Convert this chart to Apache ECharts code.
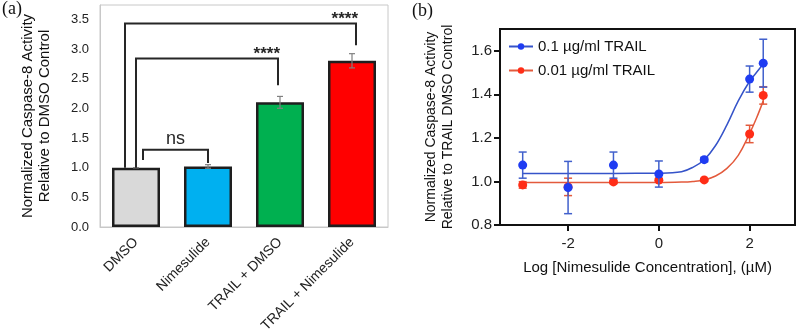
<!DOCTYPE html>
<html>
<head>
<meta charset="utf-8">
<script src="https://cdn.jsdelivr.net/npm/echarts@6/dist/echarts.min.js"></script>
<style>
  html, body { margin: 0; padding: 0; background: #fff; }
  #main { width: 800px; height: 329px; }
</style>
</head>
<body>
<div id="main"></div>
<script>
// ---- panel (a) data ----
const groups = ["DMSO", "Nimesulide", "TRAIL + DMSO", "TRAIL + Nimesulide"];
const activity = [1.0, 1.02, 2.1, 2.8];
const activityErr = [0.0, 0.03, 0.1, 0.12];
const barColors = ["#d9d9d9", "#00b0f0", "#00b050", "#ff0000"];
const yTicksA = [0, 0.5, 1, 1.5, 2, 2.5, 3, 3.5];
// significance brackets
const bracketFrom = [0, 0, 0];
const bracketTo = [1, 2, 3];
const bracketTop = [1.3, 2.84, 3.43];
const bracketLeftEnd = [1.13, 1.0, 1.0];
const bracketRightEnd = [1.08, 2.39, 3.06];
const bracketLabels = ["ns", "****", "****"];

// ---- panel (b) data ----
const logConc = [-3, -2, -1, 0, 1, 2, 2.3];
const high = [1.075, 0.972, 1.075, 1.034, 1.1, 1.47, 1.543];
const highErr = [0.06, 0.12, 0.06, 0.06, 0.01, 0.06, 0.11];
const low = [0.984, 0.975, 0.998, 1.006, 1.007, 1.218, 1.395];
const lowErr = [0.015, 0.04, 0.008, 0.008, 0.005, 0.04, 0.04];
// fitted curves
const fitX = [-3, -2, -1, 0, 0.5, 0.75, 1, 1.25, 1.5, 1.75, 2, 2.15, 2.3];
const highFit = [1.037, 1.037, 1.037, 1.038, 1.045, 1.065, 1.1, 1.165, 1.26, 1.37, 1.46, 1.5, 1.54];
const lowFit = [0.995, 0.995, 0.995, 0.995, 0.997, 1.0, 1.007, 1.025, 1.06, 1.12, 1.22, 1.29, 1.37];
const xTicksB = [-2, 0, 2];
const yTicksB = [0.8, 1.0, 1.2, 1.4, 1.6];
const legendNames = ["0.1 \u00b5g/ml TRAIL", "0.01 \u00b5g/ml TRAIL"];

const FONT = "Liberation Sans, Arial, sans-serif";
const BLUE = "#1f3cf2", BLUE_LINE = "#3553c9";
const RED = "#ff2d17", RED_LINE = "#e35a3c";

// error bar drawer (vertical line + caps)
function errorBars(capHalf, color, width) {
  return function (params, api) {
    const top = api.coord([api.value(0), api.value(2)]);
    const bot = api.coord([api.value(0), api.value(1)]);
    const st = { stroke: color, lineWidth: width };
    return {
      type: "group",
      children: [
        { type: "line", shape: { x1: top[0], y1: top[1], x2: bot[0], y2: bot[1] }, style: st },
        { type: "line", shape: { x1: top[0] - capHalf, y1: top[1], x2: top[0] + capHalf, y2: top[1] }, style: st },
        { type: "line", shape: { x1: bot[0] - capHalf, y1: bot[1], x2: bot[0] + capHalf, y2: bot[1] }, style: st },
      ],
    };
  };
}

// bracket end shifts in px (where the bracket legs meet the bars)
const legShiftL = [7, 0, -11];
const legShiftR = [0, -2, 4];

function bracketItem(params, api) {
  const i = params.dataIndex;
  const l = api.coord([bracketFrom[i], bracketTop[i]]);
  const r = api.coord([bracketTo[i], bracketTop[i]]);
  const x1 = l[0] + legShiftL[i];
  const x2 = r[0] + legShiftR[i];
  const yL = api.coord([bracketFrom[i], bracketLeftEnd[i]])[1];
  const yR = api.coord([bracketTo[i], bracketRightEnd[i]])[1];
  const y = l[1];
  const isNs = bracketLabels[i] === "ns";
  return {
    type: "group",
    children: [
      {
        type: "polyline",
        shape: { points: [[x1, yL], [x1, y], [x2, y], [x2, yR]] },
        style: { stroke: "#262626", lineWidth: 2, fill: null },
      },
      {
        type: "text",
        x: isNs ? (x1 + x2) / 2 : x2 + 2,
        y: isNs ? y - 2 : y + 4,
        style: {
          text: bracketLabels[i],
          fill: "#262626",
          font: isNs ? "18px " + FONT : "bold 17px " + FONT,
          align: isNs ? "center" : "right",
          verticalAlign: "bottom",
        },
      },
    ],
  };
}

const chart = echarts.init(document.getElementById("main"));
const option = {
  animation: false,
  textStyle: { fontFamily: FONT },
  title: [
    { text: "(a)", left: 2, top: 0, padding: 0, textStyle: { fontFamily: "Liberation Serif", fontSize: 18, fontWeight: "normal", color: "#111" } },
    { text: "(b)", left: 412, top: 2, padding: 0, textStyle: { fontFamily: "Liberation Serif", fontSize: 18, fontWeight: "normal", color: "#111" } },
  ],
  legend: {
    data: legendNames,
    orient: "vertical",
    left: 503,
    top: 34,
    itemWidth: 24,
    itemHeight: 8,
    itemGap: 9,
    textStyle: { fontSize: 15, color: "#111" },
  },
  grid: [
    { left: 100, top: 5, width: 288, height: 222, outerBoundsMode: "none", show: true, borderColor: "#c8c8c8", borderWidth: 1 },
    { left: 500, top: 29, width: 295, height: 196, outerBoundsMode: "none", show: true, borderColor: "#111", borderWidth: 2 },
  ],
  xAxis: [
    {
      gridIndex: 0,
      type: "category",
      data: groups,
      axisTick: { show: false },
      axisLine: { lineStyle: { color: "#c8c8c8", width: 1 } },
      axisLabel: { rotate: 45, margin: 13, fontSize: 14, color: "#222" },
    },
    {
      gridIndex: 1,
      type: "value",
      min: -3.5,
      max: 3,
      name: "Log [Nimesulide Concentration], (\u00b5M)",
      nameLocation: "middle",
      nameGap: 35,
      nameTextStyle: { fontSize: 15, color: "#111" },
      splitLine: { show: false },
      axisLine: { onZero: false, lineStyle: { color: "#111", width: 2 } },
      axisTick: { customValues: xTicksB, length: 6, lineStyle: { color: "#111", width: 2 } },
      axisLabel: { customValues: xTicksB, margin: 11, fontSize: 15, color: "#222" },
    },
  ],
  yAxis: [
    {
      gridIndex: 0,
      type: "value",
      min: 0,
      max: 3.74,
      name: "Normalized Caspase-8 Activity\nRelative to DMSO Control",
      nameLocation: "middle",
      nameGap: 47,
      nameTextStyle: { fontSize: 15, lineHeight: 17, color: "#111" },
      splitLine: { show: false },
      axisLine: { show: true, lineStyle: { color: "#c8c8c8", width: 1 } },
      axisTick: { show: false },
      axisLabel: { customValues: yTicksA, formatter: (v) => v.toFixed(1), margin: 11, fontSize: 13, color: "#222" },
    },
    {
      gridIndex: 1,
      type: "value",
      min: 0.8,
      max: 1.7,
      name: "Normalized Caspase-8 Activity\nRelative to TRAIL DMSO Control",
      nameLocation: "middle",
      nameGap: 43,
      nameTextStyle: { fontSize: 14, lineHeight: 17, color: "#111" },
      splitLine: { show: false },
      axisLine: { show: true, onZero: false, lineStyle: { color: "#111", width: 2 } },
      axisTick: { customValues: yTicksB, length: 6, lineStyle: { color: "#111", width: 2 } },
      axisLabel: { customValues: yTicksB, formatter: (v) => v.toFixed(1), margin: 8, fontSize: 15, color: "#222" },
    },
  ],
  series: [
    {
      type: "bar",
      xAxisIndex: 0,
      yAxisIndex: 0,
      barWidth: 48,
      data: activity.map((v, i) => ({ value: v, itemStyle: { color: barColors[i] } })),
      itemStyle: { borderColor: "#1e1e1e", borderWidth: 2.5 },
      z: 2,
    },
    {
      type: "custom",
      xAxisIndex: 0,
      yAxisIndex: 0,
      renderItem: errorBars(3, "#808080", 1.2),
      data: activity.map((v, i) => [i, v - activityErr[i], v + activityErr[i]]),
      z: 3,
    },
    {
      type: "custom",
      xAxisIndex: 0,
      yAxisIndex: 0,
      renderItem: bracketItem,
      data: bracketTop.map((v, i) => [bracketFrom[i], v]),
      z: 4,
    },
    // panel (b): low TRAIL first so the high TRAIL marks sit on top
    {
      name: legendNames[1],
      type: "line",
      xAxisIndex: 1,
      yAxisIndex: 1,
      smooth: 0.4,
      symbol: "circle",
      symbolSize: 8,
      showSymbol: false,
      color: RED,
      lineStyle: { color: RED_LINE, width: 1.5 },
      data: fitX.map((x, i) => [x, lowFit[i]]),
      z: 2,
    },
    {
      name: legendNames[1],
      type: "custom",
      xAxisIndex: 1,
      yAxisIndex: 1,
      renderItem: errorBars(4, RED_LINE, 1.5),
      data: logConc.map((x, i) => [x, low[i] - lowErr[i], low[i] + lowErr[i]]),
      z: 3,
    },
    {
      name: legendNames[1],
      type: "scatter",
      xAxisIndex: 1,
      yAxisIndex: 1,
      symbolSize: 9,
      itemStyle: { color: RED, opacity: 1 },
      data: logConc.map((x, i) => [x, low[i]]),
      z: 4,
    },
    {
      name: legendNames[0],
      type: "line",
      xAxisIndex: 1,
      yAxisIndex: 1,
      smooth: 0.4,
      symbol: "circle",
      symbolSize: 8,
      showSymbol: false,
      color: BLUE,
      lineStyle: { color: BLUE_LINE, width: 1.5 },
      data: fitX.map((x, i) => [x, highFit[i]]),
      z: 5,
    },
    {
      name: legendNames[0],
      type: "custom",
      xAxisIndex: 1,
      yAxisIndex: 1,
      renderItem: errorBars(4, "#4160cc", 1.5),
      data: logConc.map((x, i) => [x, high[i] - highErr[i], high[i] + highErr[i]]),
      z: 6,
    },
    {
      name: legendNames[0],
      type: "scatter",
      xAxisIndex: 1,
      yAxisIndex: 1,
      symbolSize: 9,
      itemStyle: { color: BLUE, opacity: 1 },
      data: logConc.map((x, i) => [x, high[i]]),
      z: 7,
    },
  ],
};
chart.setOption(option);
</script>
</body>
</html>
